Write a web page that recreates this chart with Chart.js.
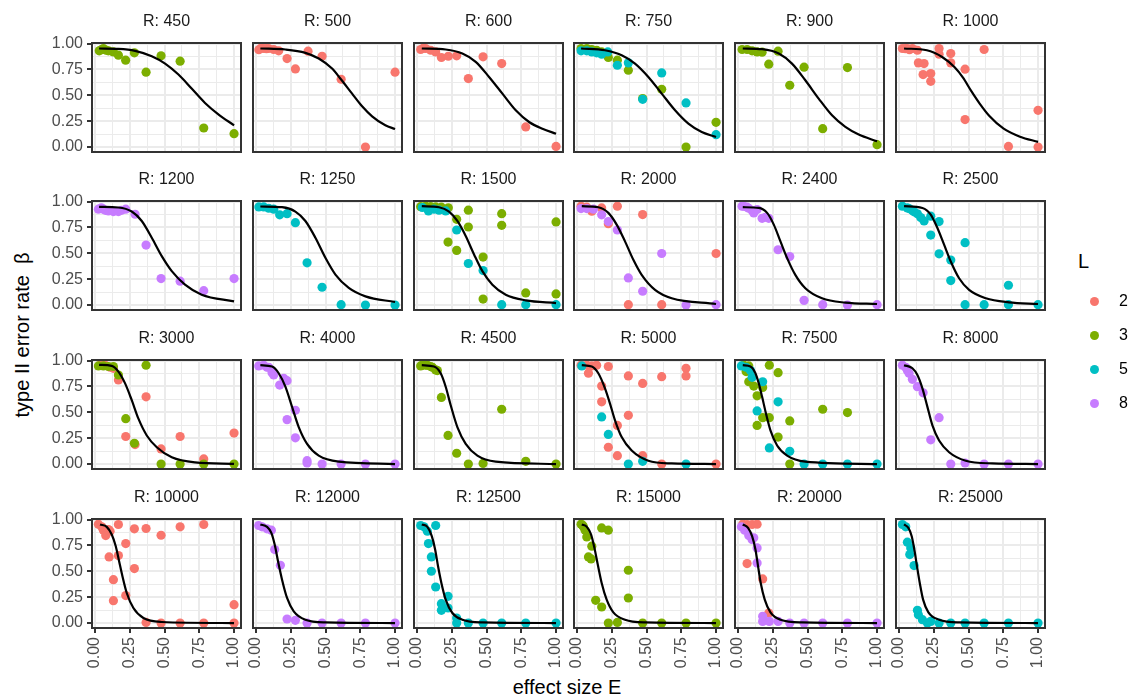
<!DOCTYPE html>
<html>
<head>
<meta charset="utf-8">
<script src="https://cdn.jsdelivr.net/npm/chart.js@4.4.1/dist/chart.umd.min.js"></script>
<style>
  body { margin: 0; background: #fff; }
  #wrap { position: relative; width: 1129px; height: 697px; overflow: hidden; background: #fff;
          font-family: "Liberation Sans", Arial, sans-serif; }
  #wrap canvas { position: absolute; }
  .ytitle { position: absolute; left: 22px; top: 335px; transform: translate(-50%, -50%) rotate(-90deg);
            font-size: 20px; white-space: nowrap; color: #000; }
  .xtitle { position: absolute; left: 567px; top: 687px; transform: translate(-50%, -50%);
            font-size: 20px; white-space: nowrap; color: #000; }
  .legtitle { position: absolute; left: 1078px; top: 250px; font-size: 20px; color: #000; }
  .key { position: absolute; width: 9px; height: 9px; border-radius: 50%; }
  .keylab { position: absolute; font-size: 16px; color: #000; }
</style>
</head>
<body>
<div id="wrap">
  <div class="ytitle">type II error rate &nbsp;β</div>
  <div class="xtitle">effect size E</div>
  <div class="legtitle">L</div>
</div>
<script>
// facets (R) and colour groups (L)
const facetR = [450, 500, 600, 750, 900, 1000,
                1200, 1250, 1500, 2000, 2400, 2500,
                3000, 4000, 4500, 5000, 7500, 8000,
                10000, 12000, 12500, 15000, 20000, 25000];
const levelsL = [2, 3, 5, 8];
const coloursL = ['#F8766D', '#7CAE00', '#00BFC4', '#C77CFF'];

// axis ticks (same for E and beta)
const majorTicks = [0, 0.25, 0.5, 0.75, 1];
const minorTicks = [0.125, 0.375, 0.625, 0.875];

// observed points, per L, keyed by R : [E, beta]
const betaL2 = {
  500: [[0.02,0.94],[0.035,0.955],[0.055,0.952],[0.075,0.95],[0.09,0.952],[0.127,0.942],[0.163,0.929],[0.223,0.855],[0.283,0.755],[0.374,0.926],[0.475,0.877],[0.612,0.655],[0.787,0.0],[1.0,0.723]],
  600: [[0.026,0.942],[0.045,0.955],[0.062,0.952],[0.098,0.935],[0.134,0.919],[0.175,0.865],[0.225,0.877],[0.285,0.881],[0.369,0.661],[0.475,0.871],[0.609,0.806],[0.782,0.194],[1.0,0.006]],
  1000: [[0.024,0.952],[0.045,0.95],[0.06,0.952],[0.075,0.94],[0.096,0.952],[0.132,0.935],[0.139,0.813],[0.18,0.806],[0.173,0.70],[0.228,0.71],[0.228,0.635],[0.288,0.952],[0.288,0.897],[0.372,0.903],[0.372,0.813],[0.475,0.752],[0.612,0.942],[0.475,0.265],[0.787,0.006],[1.0,0.355],[1.0,0.0]],
  2000: [[0.029,0.955],[0.07,0.945],[0.106,0.906],[0.177,0.938],[0.225,0.786],[0.29,0.955],[0.472,0.874],[0.369,0.003],[0.609,0.003],[1.0,0.498]],
  3000: [[0.036,0.955],[0.072,0.955],[0.108,0.935],[0.132,0.925],[0.168,0.812],[0.367,0.649],[0.221,0.266],[0.288,0.188],[0.475,0.146],[0.612,0.266],[0.782,0.049],[1.0,0.299]],
  5000: [[0.029,0.955],[0.07,0.955],[0.106,0.948],[0.141,0.955],[0.082,0.877],[0.225,0.942],[0.177,0.753],[0.177,0.601],[0.369,0.851],[0.472,0.779],[0.609,0.844],[0.784,0.925],[0.784,0.851],[0.369,0.471],[0.29,0.373],[0.225,0.162],[0.29,0.081],[0.472,0.081],[0.609,0.0],[1.0,0.0]],
  10000: [[0.024,0.955],[0.048,0.929],[0.06,0.897],[0.077,0.845],[0.096,0.903],[0.108,0.887],[0.168,0.952],[0.221,0.768],[0.283,0.91],[0.367,0.913],[0.475,0.848],[0.612,0.929],[0.782,0.952],[0.101,0.639],[0.168,0.652],[0.283,0.526],[0.132,0.419],[0.221,0.265],[0.132,0.216],[0.367,0.006],[0.475,0.0],[0.612,0.0],[0.782,0.0],[1.0,0.177],[1.0,0.0]],
  20000: [[0.034,0.955],[0.065,0.952],[0.101,0.952],[0.137,0.955],[0.065,0.574],[0.177,0.426],[0.221,0.097]]
};
const betaL3 = {
  450: [[0.03,0.929],[0.045,0.94],[0.06,0.952],[0.08,0.935],[0.096,0.929],[0.132,0.919],[0.168,0.887],[0.22,0.839],[0.283,0.91],[0.367,0.723],[0.475,0.881],[0.612,0.829],[0.782,0.184],[1.0,0.129]],
  750: [[0.029,0.952],[0.07,0.952],[0.106,0.942],[0.141,0.935],[0.177,0.919],[0.225,0.865],[0.29,0.839],[0.369,0.742],[0.472,0.468],[0.609,0.558],[0.784,0.0],[1.0,0.239]],
  900: [[0.029,0.942],[0.065,0.942],[0.101,0.929],[0.137,0.919],[0.173,0.916],[0.221,0.8],[0.288,0.926],[0.372,0.597],[0.475,0.771],[0.609,0.177],[0.787,0.768],[1.0,0.023]],
  1500: [[0.026,0.95],[0.062,0.955],[0.098,0.95],[0.134,0.948],[0.175,0.945],[0.225,0.94],[0.223,0.608],[0.285,0.828],[0.285,0.528],[0.369,0.916],[0.369,0.754],[0.475,0.463],[0.475,0.058],[0.609,0.883],[0.609,0.77],[0.782,0.117],[1.0,0.803],[1.0,0.107]],
  3000: [[0.024,0.948],[0.06,0.948],[0.096,0.942],[0.132,0.942],[0.168,0.86],[0.367,0.955],[0.221,0.438],[0.283,0.201],[0.475,0.0],[0.612,0.0],[0.782,0.0],[1.0,0.0]],
  4500: [[0.026,0.948],[0.038,0.955],[0.062,0.955],[0.074,0.955],[0.098,0.942],[0.11,0.935],[0.134,0.909],[0.146,0.903],[0.175,0.643],[0.223,0.276],[0.285,0.104],[0.369,0.0],[0.475,0.006],[0.609,0.529],[0.782,0.026],[1.0,0.0]],
  7500: [[0.041,0.955],[0.077,0.948],[0.058,0.893],[0.077,0.795],[0.113,0.753],[0.177,0.74],[0.137,0.659],[0.225,0.955],[0.288,0.883],[0.177,0.448],[0.225,0.448],[0.137,0.373],[0.372,0.416],[0.288,0.26],[0.609,0.529],[0.787,0.497],[0.372,0.0]],
  15000: [[0.029,0.955],[0.04,0.945],[0.046,0.929],[0.058,0.897],[0.07,0.832],[0.106,0.742],[0.082,0.639],[0.101,0.619],[0.177,0.919],[0.225,0.897],[0.369,0.51],[0.369,0.242],[0.134,0.219],[0.177,0.155],[0.225,0.0],[0.29,0.006],[0.472,0.0],[0.609,0.0],[0.784,0.0],[1.0,0.0]]
};
const betaL5 = {
  750: [[0.029,0.929],[0.07,0.929],[0.106,0.919],[0.141,0.91],[0.177,0.897],[0.221,0.919],[0.29,0.79],[0.369,0.813],[0.472,0.461],[0.609,0.716],[0.784,0.426],[1.0,0.119]],
  1250: [[0.02,0.948],[0.055,0.948],[0.091,0.935],[0.127,0.926],[0.17,0.871],[0.223,0.883],[0.283,0.796],[0.367,0.408],[0.475,0.172],[0.612,0.003],[0.787,0.0],[1.0,0.0]],
  1500: [[0.038,0.942],[0.082,0.909],[0.122,0.926],[0.158,0.916],[0.206,0.909],[0.285,0.725],[0.369,0.401],[0.475,0.333],[0.609,0.003],[0.782,0.003],[1.0,0.003]],
  2500: [[0.024,0.955],[0.06,0.938],[0.072,0.932],[0.096,0.913],[0.108,0.9],[0.132,0.881],[0.156,0.845],[0.18,0.812],[0.228,0.858],[0.288,0.806],[0.228,0.676],[0.288,0.495],[0.372,0.434],[0.372,0.236],[0.475,0.602],[0.475,0.003],[0.612,0.003],[0.787,0.191],[0.787,0.003],[1.0,0.003]],
  5000: [[0.034,0.948],[0.177,0.455],[0.225,0.286],[0.369,0.0],[0.472,0.026],[0.784,0.0]],
  7500: [[0.024,0.948],[0.058,0.935],[0.089,0.903],[0.101,0.838],[0.177,0.795],[0.137,0.513],[0.288,0.601],[0.225,0.156],[0.372,0.123],[0.475,0.0],[0.609,0.0],[0.787,0.0],[1.0,0.0]],
  12500: [[0.026,0.942],[0.05,0.929],[0.074,0.887],[0.082,0.768],[0.103,0.639],[0.103,0.5],[0.134,0.348],[0.134,0.942],[0.223,0.258],[0.175,0.187],[0.175,0.123],[0.223,0.145],[0.285,0.048],[0.285,0.0],[0.369,0.0],[0.475,0.0],[0.609,0.0],[0.782,0.0],[1.0,0.0]],
  25000: [[0.024,0.952],[0.048,0.929],[0.06,0.781],[0.084,0.726],[0.077,0.661],[0.108,0.555],[0.132,0.123],[0.139,0.081],[0.168,0.032],[0.204,0.0],[0.228,0.016],[0.288,0.0],[0.372,0.0],[0.475,0.0],[0.612,0.0],[0.787,0.0],[1.0,0.0]]
};
const betaL8 = {
  1200: [[0.024,0.926],[0.045,0.94],[0.06,0.926],[0.075,0.915],[0.096,0.909],[0.132,0.903],[0.168,0.903],[0.19,0.915],[0.221,0.926],[0.288,0.877],[0.367,0.579],[0.475,0.256],[0.612,0.23],[0.782,0.139],[1.0,0.256]],
  2000: [[0.029,0.932],[0.07,0.932],[0.118,0.926],[0.177,0.871],[0.225,0.806],[0.29,0.725],[0.369,0.262],[0.472,0.133],[0.609,0.498],[0.784,0.0],[1.0,0.003]],
  2400: [[0.029,0.955],[0.041,0.955],[0.065,0.945],[0.077,0.935],[0.101,0.913],[0.113,0.89],[0.137,0.922],[0.173,0.838],[0.197,0.848],[0.221,0.838],[0.288,0.534],[0.372,0.469],[0.475,0.045],[0.609,0.003],[0.787,0.0],[1.0,0.003]],
  4000: [[0.019,0.948],[0.055,0.955],[0.079,0.935],[0.091,0.935],[0.115,0.883],[0.127,0.86],[0.17,0.763],[0.199,0.828],[0.223,0.805],[0.283,0.519],[0.223,0.429],[0.283,0.253],[0.367,0.032],[0.367,0.01],[0.475,0.0],[0.612,0.0],[0.787,0.0],[1.0,0.0]],
  8000: [[0.024,0.955],[0.048,0.935],[0.06,0.903],[0.072,0.877],[0.096,0.818],[0.132,0.747],[0.173,0.688],[0.288,0.448],[0.228,0.234],[0.372,0.0],[0.475,0.01],[0.612,0.0],[0.787,0.0],[1.0,0.0]],
  12000: [[0.019,0.942],[0.043,0.929],[0.079,0.91],[0.11,0.897],[0.134,0.71],[0.175,0.558],[0.223,0.039],[0.283,0.026],[0.367,0.0],[0.475,0.0],[0.612,0.0],[0.787,0.0],[1.0,0.0]],
  20000: [[0.024,0.929],[0.048,0.897],[0.077,0.845],[0.101,0.806],[0.113,0.823],[0.137,0.726],[0.137,0.581],[0.177,0.065],[0.177,0.016],[0.225,0.016],[0.288,0.016],[0.372,0.0],[0.475,0.0],[0.609,0.0],[0.787,0.0],[1.0,0.0]]
};
const betaByL = [betaL2, betaL3, betaL5, betaL8];

// fitted curve, keyed by R
const fitE = {
  450: [0.029,0.168,0.288,0.408,0.504,0.6,0.695,0.791,0.887,1.0],
  500: [0.031,0.211,0.355,0.451,0.547,0.612,0.691,0.763,0.835,0.93,1.0],
  600: [0.034,0.206,0.326,0.422,0.518,0.614,0.71,0.806,0.902,1.0],
  750: [0.029,0.201,0.321,0.417,0.513,0.609,0.705,0.801,0.897,1.0],
  900: [0.034,0.173,0.293,0.388,0.484,0.58,0.676,0.772,0.868,1.0],
  1000: [0.036,0.2,0.31,0.4,0.46,0.52,0.58,0.65,0.75,0.87,1.0],
  1200: [0.029,0.168,0.264,0.336,0.408,0.48,0.552,0.647,0.767,1.0],
  1250: [0.031,0.187,0.283,0.355,0.427,0.499,0.571,0.667,0.787,1.0],
  1500: [0.034,0.158,0.23,0.29,0.35,0.41,0.47,0.542,0.638,0.782,1.0],
  2000: [0.034,0.153,0.225,0.285,0.345,0.405,0.465,0.561,0.681,1.0],
  2400: [0.034,0.149,0.209,0.257,0.305,0.353,0.412,0.484,0.604,0.772,1.0],
  2500: [0.036,0.168,0.228,0.276,0.324,0.372,0.432,0.504,0.624,0.791,1.0],
  3000: [0.029,0.12,0.168,0.216,0.264,0.312,0.372,0.444,0.552,0.719,1.0],
  4000: [0.031,0.115,0.163,0.211,0.259,0.307,0.367,0.451,0.595,1.0],
  4500: [0.034,0.122,0.17,0.206,0.242,0.29,0.35,0.434,0.566,1.0],
  5000: [0.034,0.106,0.153,0.201,0.237,0.273,0.321,0.393,0.513,0.681,1.0],
  7500: [0.034,0.089,0.125,0.149,0.173,0.201,0.233,0.281,0.353,0.484,1.0],
  8000: [0.036,0.096,0.132,0.168,0.204,0.24,0.288,0.36,0.48,0.671,1.0],
  10000: [0.036,0.084,0.12,0.149,0.173,0.197,0.228,0.276,0.348,0.48,1.0],
  12000: [0.031,0.079,0.11,0.134,0.158,0.187,0.223,0.271,0.355,0.499,1.0],
  12500: [0.034,0.074,0.106,0.13,0.151,0.175,0.206,0.254,0.326,0.47,1.0],
  15000: [0.034,0.07,0.101,0.125,0.149,0.177,0.213,0.261,0.345,0.489,1.0],
  20000: [0.034,0.072,0.101,0.125,0.144,0.163,0.192,0.233,0.305,0.46,1.0],
  25000: [0.036,0.067,0.091,0.11,0.129,0.149,0.173,0.211,0.288,0.432,1.0]
};
const fitBeta = {
  450: [0.952,0.948,0.929,0.877,0.806,0.7,0.565,0.426,0.316,0.21],
  500: [0.952,0.942,0.91,0.855,0.758,0.652,0.516,0.394,0.297,0.21,0.174],
  600: [0.952,0.942,0.903,0.823,0.677,0.516,0.355,0.242,0.177,0.129],
  750: [0.952,0.935,0.887,0.806,0.677,0.516,0.355,0.226,0.145,0.097],
  900: [0.952,0.945,0.903,0.806,0.645,0.468,0.306,0.194,0.12,0.055],
  1000: [0.952,0.935,0.87,0.77,0.67,0.54,0.42,0.3,0.18,0.1,0.05],
  1200: [0.948,0.942,0.903,0.812,0.65,0.472,0.327,0.197,0.1,0.036],
  1250: [0.952,0.945,0.903,0.812,0.65,0.456,0.294,0.165,0.084,0.029],
  1500: [0.955,0.945,0.903,0.812,0.667,0.489,0.327,0.197,0.1,0.045,0.019],
  2000: [0.955,0.945,0.89,0.777,0.615,0.437,0.291,0.146,0.065,0.01],
  2400: [0.945,0.938,0.89,0.777,0.615,0.453,0.291,0.162,0.065,0.023,0.01],
  2500: [0.955,0.938,0.874,0.744,0.583,0.421,0.259,0.146,0.065,0.026,0.01],
  3000: [0.958,0.948,0.893,0.779,0.617,0.438,0.276,0.162,0.065,0.016,0.002],
  4000: [0.955,0.942,0.877,0.747,0.552,0.357,0.195,0.081,0.023,0.0],
  4500: [0.955,0.942,0.877,0.747,0.568,0.357,0.195,0.081,0.023,0.0],
  5000: [0.955,0.942,0.877,0.731,0.584,0.422,0.26,0.13,0.032,0.006,0.0],
  7500: [0.955,0.942,0.877,0.779,0.649,0.487,0.325,0.179,0.081,0.023,0.0],
  8000: [0.955,0.925,0.86,0.731,0.552,0.373,0.227,0.114,0.032,0.006,0.0],
  10000: [0.952,0.929,0.855,0.742,0.597,0.452,0.29,0.145,0.048,0.01,0.0],
  12000: [0.952,0.929,0.871,0.758,0.597,0.419,0.242,0.113,0.032,0.006,0.0],
  12500: [0.952,0.929,0.839,0.71,0.548,0.387,0.226,0.097,0.032,0.006,0.0],
  15000: [0.952,0.929,0.855,0.726,0.565,0.387,0.226,0.103,0.032,0.006,0.0],
  20000: [0.952,0.919,0.839,0.71,0.548,0.387,0.226,0.103,0.032,0.006,0.0],
  25000: [0.952,0.919,0.839,0.71,0.548,0.387,0.226,0.103,0.032,0.006,0.0]
};

// layout of the facet grid
const FONT = '"Liberation Sans", Arial, sans-serif';
const PANEL_W = 149, PANEL_H = 109;
const Y_AXIS_W = 50, X_AXIS_H = 46, TITLE_H = 31, PAD_R = 24;
const STRIP_SIZE = 16, STRIP_LH = STRIP_SIZE * 1.2;
const COL0 = 92.3, COL_STEP = 160.7, ROW0 = 42.7, ROW_STEP = 158.67;
const gridVals = majorTicks.concat(minorTicks).sort((a, b) => a - b);

// panel frame drawn on top, like ggplot's panel.border
const panelBorder = {
  id: 'panelBorder',
  afterDatasetsDraw(chart) {
    const a = chart.chartArea, c = chart.ctx;
    c.save();
    c.strokeStyle = '#333333';
    c.lineWidth = 2;
    c.strokeRect(a.left, a.top, a.right - a.left, a.bottom - a.top);
    c.restore();
  }
};

function axisOpts(min, max, showLabels, isX) {
  return {
    type: 'linear',
    min: min, max: max,
    afterBuildTicks: s => { s.ticks = gridVals.map(v => ({ value: v })); },
    afterFit: s => { if (isX) s.height = X_AXIS_H; else s.width = Y_AXIS_W; },
    border: { display: false },
    grid: {
      color: '#EBEBEB',
      lineWidth: ctx => (ctx.index % 2 === 0 ? 2 : 1),
      drawTicks: true,
      tickLength: 5,
      tickWidth: 2,
      tickColor: ctx => (showLabels && ctx.index % 2 === 0 ? '#333333' : 'rgba(0,0,0,0)')
    },
    ticks: {
      display: showLabels,
      autoSkip: false,
      padding: 4,
      color: '#4D4D4D',
      font: { family: FONT, size: 16 },
      minRotation: isX ? 90 : 0,
      maxRotation: isX ? 90 : 0,
      callback: (v, i) => (i % 2 === 0 ? Number(v).toFixed(2) : '')
    }
  };
}

const wrap = document.getElementById('wrap');
facetR.forEach((r, i) => {
  const col = i % 6, row = Math.floor(i / 6);
  const cv = document.createElement('canvas');
  const cw = Y_AXIS_W + PANEL_W + PAD_R;
  const ch = Math.round(TITLE_H + PANEL_H + X_AXIS_H);
  cv.width = cw; cv.height = ch;
  cv.style.left = Math.round(COL0 + COL_STEP * col - Y_AXIS_W) + 'px';
  cv.style.top = Math.round(ROW0 + ROW_STEP * row - TITLE_H) + 'px';
  wrap.appendChild(cv);

  const datasets = [{
    type: 'line',
    data: fitE[r].map((e, k) => ({ x: e, y: fitBeta[r][k] })),
    borderColor: '#000000',
    borderWidth: 2.2,
    pointRadius: 0,
    cubicInterpolationMode: 'monotone',
    fill: false
  }];
  // later L drawn on top: Chart.js paints the first dataset last
  for (let k = levelsL.length - 1; k >= 0; k--) {
    const pts = betaByL[k][r];
    if (!pts) continue;
    datasets.push({
      type: 'scatter',
      data: pts.map(p => ({ x: p[0], y: p[1] })),
      backgroundColor: coloursL[k],
      borderWidth: 0,
      pointRadius: 4.6,
      pointHoverRadius: 4.6
    });
  }

  new Chart(cv, {
    type: 'scatter',
    data: { datasets },
    options: {
      responsive: false,
      animation: false,
      events: [],
      layout: { padding: { left: 0, right: PAD_R, top: 0, bottom: 0 } },
      plugins: {
        legend: { display: false },
        tooltip: { enabled: false },
        title: {
          display: true,
          fullSize: false,
          text: 'R: ' + r,
          color: '#1A1A1A',
          font: { family: FONT, size: STRIP_SIZE, weight: 'normal' },
          padding: { top: 0, bottom: TITLE_H - STRIP_LH }
        }
      },
      scales: {
        x: axisOpts(-0.022, 1.05, row === 3, true),
        y: axisOpts(-0.048, 1.005, col === 0, false)
      }
    },
    plugins: [panelBorder]
  });
});

// legend for L
levelsL.forEach((l, k) => {
  const y = 301 + 34 * k;
  const dot = document.createElement('div');
  dot.className = 'key';
  dot.style.left = (1094 - 4.5) + 'px';
  dot.style.top = (y - 4.5) + 'px';
  dot.style.background = coloursL[k];
  wrap.appendChild(dot);
  const lab = document.createElement('div');
  lab.className = 'keylab';
  lab.style.left = '1119px';
  lab.style.top = (y - 9) + 'px';
  lab.textContent = l;
  wrap.appendChild(lab);
});
</script>
</body>
</html>
